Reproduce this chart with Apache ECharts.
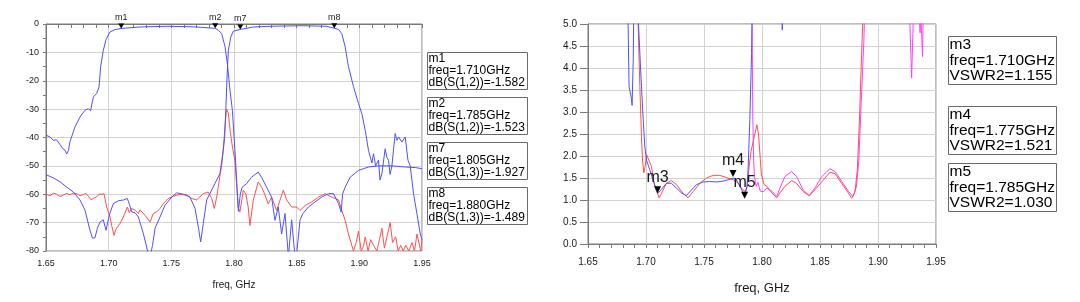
<!DOCTYPE html>
<html>
<head>
<meta charset="utf-8">
<title>Duplexer S-parameters and VSWR</title>
<script src="https://cdn.jsdelivr.net/npm/echarts@6/dist/echarts.min.js"></script>
<style>
  html, body { margin: 0; padding: 0; background: #fff; }
  #chart { width: 1080px; height: 302px; }
</style>
</head>
<body>
<div id="chart"></div>
<script>
// ---- data: [freq GHz, value] ----
const s12 = [
  [1.650,-39.2],[1.6532,-39.8],[1.6559,-41],[1.6585,-40.8],[1.6612,-42.5],[1.6635,-44],[1.6652,-44.5],
  [1.6665,-45.8],[1.6680,-44.5],[1.6691,-41.5],[1.6731,-36.3],[1.6771,-32.8],[1.6811,-30.4],[1.6838,-29.8],
  [1.6856,-30.6],[1.6865,-28.5],[1.6878,-25.7],[1.6904,-24.5],[1.6923,-22.2],[1.6936,-15.1],[1.6957,-9.3],
  [1.6979,-5.5],[1.7010,-2.8],[1.7050,-2.0],[1.7100,-1.58],[1.7250,-1.05],[1.7460,-0.8],[1.7680,-1.0],
  [1.7850,-1.52],[1.7875,-2.2],[1.7902,-3.4],[1.7929,-8.1],[1.7950,-15.1],[1.7968,-23.4],[1.7987,-30.4],
  [1.8008,-45],[1.8025,-58],[1.8035,-66],[1.8050,-60],[1.8065,-57.5],[1.8100,-56.3],[1.8140,-54],
  [1.8193,-52.2],[1.8220,-54],[1.8260,-57.5],[1.8300,-61],[1.8327,-69.2],[1.8353,-64.5],[1.8380,-74],
  [1.8407,-66.8],[1.8434,-82],[1.8460,-69],[1.8487,-82],[1.8500,-81],[1.8527,-69],[1.8550,-66.8],
  [1.8594,-64.5],[1.8647,-62.7],[1.8700,-61],[1.8754,-59.8],[1.8794,-59.8],[1.8834,-63.3],[1.8855,-66.3],
  [1.8866,-60],[1.8887,-57.5],[1.8927,-54],[1.8993,-51.6],[1.9073,-50.4],[1.9153,-50],[1.9260,-50],
  [1.9366,-50.4],[1.9446,-50.6],[1.9500,-51]
];
const s13 = [
  [1.650,-53.1],[1.6561,-54.3],[1.6612,-55.6],[1.6665,-57.5],[1.6718,-59.2],[1.6771,-62],[1.6811,-65.6],
  [1.6851,-72.7],[1.6871,-75.5],[1.6891,-75.3],[1.6910,-72],[1.6931,-69.8],[1.6957,-69],[1.6979,-72.7],
  [1.7005,-67.4],[1.7037,-63.3],[1.7077,-62.3],[1.7120,-62],[1.7149,-61.5],[1.7165,-63.5],[1.7184,-66.2],
  [1.7210,-66.5],[1.7237,-68],[1.7277,-73.9],[1.7309,-79.7],[1.7320,-82],[1.7335,-81],[1.7350,-78],
  [1.7370,-72],[1.7410,-68],[1.7449,-63.9],[1.7503,-61],[1.7543,-59.5],[1.7596,-60],[1.7649,-61],
  [1.7689,-65],[1.7715,-71.5],[1.7734,-76.8],[1.7755,-70.3],[1.7782,-62],[1.7814,-59.2],[1.7848,-56.2],
  [1.7888,-52.7],[1.7913,-45],[1.7925,-40],[1.7935,-30],[1.7945,-18],[1.7955,-9.3],[1.7974,-4.6],
  [1.7995,-2.5],[1.8050,-1.93],[1.8154,-1.05],[1.8286,-0.8],[1.8552,-0.6],[1.8738,-0.8],[1.8800,-1.49],
  [1.8834,-1.9],[1.8860,-3.4],[1.8887,-8],[1.8913,-15],[1.8953,-22],[1.8993,-28],[1.9020,-31.6],
  [1.9047,-37.5],[1.9073,-44.5],[1.9100,-49],[1.9113,-45.7],[1.9130,-50],[1.9153,-48],[1.9165,-55],
  [1.9180,-52.7],[1.9206,-44],[1.9220,-47],[1.9233,-48],[1.9245,-53],[1.9260,-50],[1.9286,-38.6],
  [1.9300,-41],[1.9313,-39.8],[1.9340,-41.6],[1.9366,-39.8],[1.9388,-48],[1.9406,-50],[1.9433,-60],
  [1.9460,-67],[1.9486,-74],[1.9500,-76]
];
const iso = [
  [1.650,-60],[1.6532,-60.5],[1.6559,-59.6],[1.6585,-60],[1.6611,-60.8],[1.6638,-60.3],[1.6665,-59.7],
  [1.6691,-60.2],[1.6718,-59.6],[1.6745,-59.8],[1.6771,-60.5],[1.6798,-60.1],[1.6818,-59.7],[1.6838,-60.7],
  [1.6858,-61.9],[1.6878,-61.5],[1.6904,-60.9],[1.6924,-59.9],[1.6944,-60],[1.6963,-59.8],[1.6984,-64.5],
  [1.7011,-68],[1.7024,-71],[1.7043,-74.5],[1.7056,-72.5],[1.7069,-72],[1.7090,-70.3],[1.7117,-68],
  [1.7149,-64.5],[1.7165,-66.5],[1.7184,-65],[1.7210,-65.6],[1.7237,-66.8],[1.7250,-65.5],[1.7263,-65],
  [1.7290,-67.4],[1.7330,-69.8],[1.7356,-66.8],[1.7383,-66.2],[1.7410,-65],[1.7436,-63.3],[1.7476,-61.5],
  [1.7516,-60.7],[1.7569,-60],[1.7622,-60.2],[1.7662,-61.5],[1.7702,-62],[1.7755,-59.8],[1.7795,-59.2],
  [1.7822,-61.5],[1.7843,-65],[1.7862,-61],[1.7883,-55],[1.7902,-49.6],[1.7915,-44],[1.7930,-35],
  [1.7940,-30],[1.7955,-31.5],[1.7970,-38],[1.7990,-44],[1.8007,-48],[1.8033,-64.5],[1.8047,-66.3],
  [1.8074,-58.6],[1.8095,-60],[1.8113,-64.5],[1.8127,-71],[1.8154,-62],[1.8193,-55.7],[1.8220,-57.5],
  [1.8245,-60],[1.8273,-63.4],[1.8300,-61],[1.8340,-65.7],[1.8393,-58.6],[1.8420,-62],[1.8460,-64.5],
  [1.8500,-64.5],[1.8527,-65.7],[1.8567,-64],[1.8620,-62.7],[1.8674,-61],[1.8727,-59.8],[1.8780,-61],
  [1.8834,-62],[1.8860,-65.7],[1.8887,-69.2],[1.8913,-74],[1.8953,-80],[1.8975,-77],[1.8993,-73],
  [1.9015,-80],[1.9035,-78],[1.9047,-75],[1.9070,-80],[1.9090,-76],[1.9113,-78],[1.9140,-80],
  [1.9160,-76],[1.9180,-72],[1.9200,-79],[1.9225,-74],[1.9246,-70],[1.9265,-77],[1.9290,-75],
  [1.9310,-80],[1.9330,-78],[1.9350,-80],[1.9370,-78],[1.9395,-80],[1.9420,-77],[1.9440,-80],
  [1.9460,-74],[1.9490,-80],[1.9500,-76]
];
const vswrBlue = [
  [1.650,6],[1.6840,6],[1.6854,3.57],[1.6875,3.3],[1.6880,3.15],[1.6890,4.2],[1.6897,6],[1.6915,6],
  [1.6932,5.2],[1.6947,4.33],[1.6961,3.58],[1.6976,2.82],[1.6990,2.22],[1.7004,1.91],[1.7032,1.69],
  [1.7060,1.46],[1.7091,1.23],[1.7104,1.155],[1.7133,1.24],[1.7176,1.38],[1.7219,1.38],[1.7263,1.27],
  [1.7306,1.16],[1.7349,1.10],[1.7392,1.23],[1.7435,1.35],[1.7493,1.41],[1.7550,1.42],[1.7608,1.41],
  [1.7665,1.43],[1.7723,1.47],[1.7752,1.50],[1.7780,1.46],[1.7809,1.31],[1.7832,1.2],[1.7852,1.1],
  [1.7870,1.3],[1.7880,1.69],[1.7895,2.82],[1.7910,4.33],[1.7919,6],[1.8170,6],[1.8175,4.86],
  [1.8180,6],[1.9500,6]
];
const vswrRed = [
  [1.650,6],[1.6920,6],[1.6932,5.0],[1.6947,3.58],[1.6961,2.44],[1.6970,1.91],[1.6981,1.62],[1.6992,1.75],
  [1.7005,2.03],[1.7020,2.0],[1.7047,1.76],[1.7075,1.31],[1.7113,1.05],[1.7133,1.15],[1.7176,1.38],
  [1.7219,1.44],[1.7263,1.35],[1.7320,1.15],[1.7363,1.05],[1.7406,1.19],[1.7464,1.38],[1.7521,1.50],
  [1.7579,1.56],[1.7636,1.56],[1.7694,1.51],[1.7752,1.46],[1.7795,1.38],[1.7824,1.27],[1.7852,1.19],
  [1.7872,1.30],[1.7889,1.76],[1.7905,2.1],[1.7930,2.4],[1.7956,2.71],[1.7970,2.5],[1.7985,1.94],
  [1.7995,1.57],[1.8019,1.35],[1.8042,1.31],[1.8085,1.16],[1.8128,1.05],[1.8154,1.16],[1.8197,1.31],
  [1.8255,1.44],[1.8298,1.38],[1.8355,1.19],[1.8407,1.10],[1.8456,1.23],[1.8514,1.41],[1.8585,1.63],
  [1.8629,1.60],[1.8686,1.38],[1.8744,1.16],[1.8773,1.04],[1.8802,1.19],[1.8822,1.69],[1.8840,2.82],
  [1.8854,3.95],[1.8868,5.0],[1.8880,6],[1.9500,6]
];
const vswrMagenta = [
  [1.650,6],[1.7905,6],[1.7915,5.0],[1.7920,3.0],[1.7928,1.9],[1.7935,1.53],[1.7950,1.31],[1.7965,1.4],
  [1.7985,1.2],[1.8013,1.19],[1.8042,1.27],[1.8085,1.2],[1.8128,1.08],[1.8154,1.27],[1.8197,1.53],
  [1.8255,1.65],[1.8298,1.53],[1.8355,1.23],[1.8407,1.10],[1.8456,1.27],[1.8514,1.53],[1.8585,1.71],
  [1.8629,1.65],[1.8686,1.43],[1.8744,1.2],[1.8785,1.08],[1.8814,1.3],[1.8835,1.91],[1.8855,3.2],
  [1.8878,4.6],[1.8893,6],[1.9200,6],[1.9275,5.0],[1.9290,3.77],[1.9305,5.2],[1.9355,5.3],[1.9363,4.8],
  [1.9368,5.3],[1.9378,5.3],[1.9384,4.26],[1.9390,5.3],[1.9500,6]
];

// markers
const leftMarkerNames = ['m1', 'm2', 'm7', 'm8'];
const leftMarkerFreq = [1.710, 1.785, 1.805, 1.880];
const leftMarkerVal = [-1.582, -1.523, -1.927, -1.489];
const leftMarkerExpr = ['dB(S(1,2))', 'dB(S(1,2))', 'dB(S(1,3))', 'dB(S(1,3))'];
const rightMarkerNames = ['m3', 'm4', 'm5'];
const rightMarkerFreq = [1.710, 1.775, 1.785];
const rightMarkerVal = [1.155, 1.521, 1.030];
const rightMarkerExpr = ['VSWR2', 'VSWR2', 'VSWR2'];

const FONT = '"Liberation Sans", Arial, sans-serif';
const BLUE = '#5050ff', RED = '#ff5050', MAGENTA = '#ff40ff';
const GRID_COLOR = '#d2d2d2', AXIS_COLOR = '#7a7a7a', TEXT_COLOR = '#1a1a1a';

const chart = echarts.init(document.getElementById('chart'), null, { renderer: 'canvas' });

const tri = 'path://M0,0L10,0L5,9Z';

const markData = (names, freqs, vals) =>
  names.map((n, i) => ({ name: n, coord: [freqs[i], vals[i]] }));

const lineSeries = (name, data, color, xi, extra) => Object.assign({
  name, type: 'line', data, xAxisIndex: xi, yAxisIndex: xi,
  showSymbol: false, symbol: 'none', clip: true, animation: false,
  lineStyle: { color, width: 1 }, itemStyle: { color }, z: 3
}, extra || {});

const markPointCfg = (names, freqs, vals, size, fontSize) => ({
  symbol: tri, symbolSize: size, symbolOffset: [0, '-50%'], symbolKeepAspect: false,
  itemStyle: { color: '#000' }, animation: false,
  label: { show: true, position: 'top', distance: 1, formatter: p => p.name,
           color: TEXT_COLOR, fontSize, fontFamily: FONT },
  data: markData(names, freqs, vals)
});

const xAxisCfg = (gi, labelSize, nameSize, nameGap, labelMargin) => ({
  type: 'value', gridIndex: gi, min: 1.65, max: 1.95, interval: 0.05,
  name: 'freq, GHz', nameLocation: 'middle', nameGap,
  nameTextStyle: { color: TEXT_COLOR, fontSize: nameSize, fontFamily: FONT },
  axisLine: { show: true, lineStyle: { color: AXIS_COLOR, width: 1 } },
  axisTick: { show: true, length: 4, lineStyle: { color: AXIS_COLOR } },
  minorTick: { show: true, splitNumber: 5, length: 4, lineStyle: { color: AXIS_COLOR } },
  axisLabel: { color: TEXT_COLOR, fontSize: labelSize, fontFamily: FONT, margin: labelMargin,
               formatter: v => v.toFixed(2) },
  splitLine: { show: true, lineStyle: { color: GRID_COLOR, width: 1 } }
});

const legendBox = (x, y, w, h, lines, fontSize, lineHeight) => ({
  type: 'group', left: x, top: y,
  children: [
    { type: 'rect', shape: { x: 0.5, y: 0.5, width: w, height: h },
      style: { fill: '#fff', stroke: '#6a6a6a', lineWidth: 1 } },
    { type: 'text', x: 1.5, y: 1,
      style: { text: lines.join('\n'), fill: '#000', fontSize, fontFamily: FONT, lineHeight } }
  ]
});

const leftBoxTops = [52, 97, 142, 187];
const rightBoxTops = [36, 106, 163];

const graphics = [];
leftMarkerNames.forEach((n, i) => {
  graphics.push(legendBox(427, leftBoxTops[i], 100, 37, [
    n, 'freq=' + leftMarkerFreq[i].toFixed(3) + 'GHz',
    leftMarkerExpr[i] + '=' + leftMarkerVal[i].toFixed(3)
  ], 12, 12));
});
rightMarkerNames.forEach((n, i) => {
  graphics.push(legendBox(948, rightBoxTops[i], 108, 48, [
    n, 'freq=' + rightMarkerFreq[i].toFixed(3) + 'GHz',
    rightMarkerExpr[i] + '=' + rightMarkerVal[i].toFixed(3)
  ], 15.5, 15.5));
});

const option = {
  backgroundColor: '#fff',
  animation: false,
  grid: [
    { left: 46, top: 24, width: 376, height: 227, show: true, borderColor: AXIS_COLOR, borderWidth: 1,
      backgroundColor: 'transparent', containLabel: false },
    { left: 588, top: 24, width: 348, height: 220, show: true, borderColor: AXIS_COLOR, borderWidth: 1,
      backgroundColor: 'transparent', containLabel: false }
  ],
  xAxis: [
    xAxisCfg(0, 9, 10, 29, 8),
    xAxisCfg(1, 10, 13, 38, 13)
  ],
  yAxis: [
    { type: 'value', gridIndex: 0, min: -80, max: 0, interval: 10,
      axisLine: { show: true, lineStyle: { color: AXIS_COLOR } },
      axisTick: { show: true, length: 3, lineStyle: { color: AXIS_COLOR } },
      minorTick: { show: true, splitNumber: 2, length: 3, lineStyle: { color: AXIS_COLOR } },
      axisLabel: { color: TEXT_COLOR, fontSize: 9, fontFamily: FONT, margin: 7 },
      splitLine: { show: true, lineStyle: { color: GRID_COLOR, width: 1 } } },
    { type: 'value', gridIndex: 1, min: 0, max: 5, interval: 0.5,
      axisLine: { show: true, lineStyle: { color: AXIS_COLOR } },
      axisTick: { show: true, length: 8, lineStyle: { color: AXIS_COLOR } },
      axisLabel: { color: TEXT_COLOR, fontSize: 10, fontFamily: FONT, margin: 11,
                   formatter: v => v.toFixed(1) },
      splitLine: { show: true, lineStyle: { color: GRID_COLOR, width: 1 } } }
  ],
  series: [
    lineSeries('iso', iso, RED, 0),
    lineSeries('S12', s12, BLUE, 0, {
      markPoint: markPointCfg(leftMarkerNames.slice(0, 2), leftMarkerFreq.slice(0, 2),
                              leftMarkerVal.slice(0, 2), [6, 5], 9)
    }),
    lineSeries('S13', s13, BLUE, 0, {
      markPoint: markPointCfg(leftMarkerNames.slice(2), leftMarkerFreq.slice(2),
                              leftMarkerVal.slice(2), [6, 5], 9)
    }),
    lineSeries('VSWR_m', vswrMagenta, MAGENTA, 1),
    lineSeries('VSWR_r', vswrRed, RED, 1),
    lineSeries('VSWR2', vswrBlue, BLUE, 1, {
      markPoint: markPointCfg(rightMarkerNames, rightMarkerFreq, rightMarkerVal, [7, 7], 16)
    })
  ],
  graphic: graphics
};

chart.setOption(option);
</script>
</body>
</html>
